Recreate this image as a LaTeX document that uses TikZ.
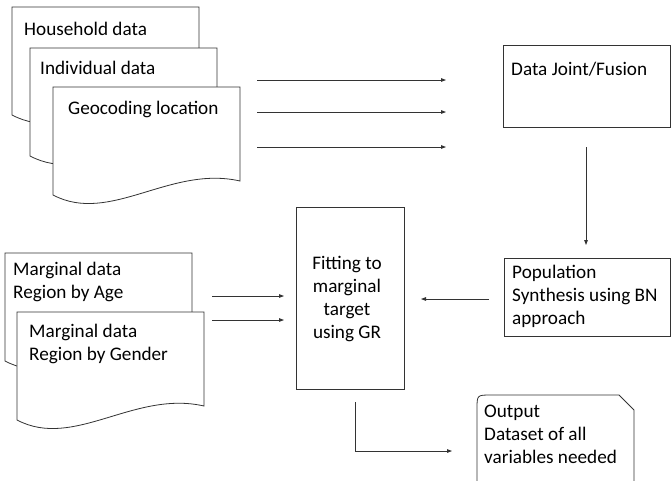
\documentclass[tikz,border=0pt]{standalone}
\usepackage{fontspec}
\setmainfont{Carlito}
\usetikzlibrary{arrows.meta}
\tikzset{
  ln/.style={draw=black!80,line width=0.8pt},
  arr/.style={ln,-{Triangle[length=5pt,width=3.6pt]}},
  txt/.style={inner sep=0pt,anchor=base west,font=\fontsize{19.2}{23}\selectfont,text=black},
  docshape/.pic={\path[ln,fill=white] (0,0) -- (187,0) -- (187,94) .. controls (117,78) and (57,138) .. (0,108) -- cycle;}
}
\begin{document}
\begin{tikzpicture}[x=1pt,y=-1pt]
\useasboundingbox (0,0) rectangle (671,480);
\clip (0,0) rectangle (671,480);
% document stacks
\pic at (12,7) {docshape};
\pic at (30,48) {docshape};
\pic at (53,87) {docshape};
\node[txt] (hh) at (24,35) {Household data};
\node[txt] (ind) at (40,74) {Individual data};
\node[txt] (geo) at (68,114) {Geocoding location};
\pic at (5,253) {docshape};
\pic at (17,312) {docshape};
\node[txt] (mage) at (13,275) {\begin{tabular}[t]{@{}l@{}}Marginal data\\Region by Age\end{tabular}};
\node[txt] (mgen) at (29,337) {\begin{tabular}[t]{@{}l@{}}Marginal data\\Region by Gender\end{tabular}};
% boxes
\draw[ln] (503,45) rectangle (670,127);
\node[txt] (fus) at (511,75) {Data Joint/Fusion};
\draw[ln] (296,207) rectangle (404,389);
\node[txt,anchor=base] (fit) at (347,269) {\begin{tabular}[t]{@{}c@{}}Fitting to\\marginal\\target\\using GR\end{tabular}};
\draw[ln] (504,258) rectangle (670,336);
\node[txt] (pop) at (512,278) {\begin{tabular}[t]{@{}l@{}}Population\\Synthesis using BN\\approach\end{tabular}};
\draw[ln] (477,490) -- (477,409) .. controls (477,395) .. (491,395) -- (619,395) -- (634,410) -- (634,490);
\node[txt] (out) at (484,417) {\begin{tabular}[t]{@{}l@{}}Output\\Dataset of all\\variables needed\end{tabular}};
% arrow end points
\coordinate (a1s) at (257,80);  \coordinate (a1e) at (446,80);
\coordinate (a2s) at (257,112); \coordinate (a2e) at (446,112);
\coordinate (a3s) at (257,147); \coordinate (a3e) at (446,147);
\coordinate (ds) at (586,147);  \coordinate (de) at (586,245);
\coordinate (ps) at (489,299);  \coordinate (pe) at (421,299);
\coordinate (m1s) at (212,296); \coordinate (m1e) at (284,296);
\coordinate (m2s) at (212,320); \coordinate (m2e) at (284,320);
\coordinate (es) at (355,402);  \coordinate (ee) at (452,451);
\draw[arr] (a1s) -- (a1e);
\draw[arr] (a2s) -- (a2e);
\draw[arr] (a3s) -- (a3e);
\draw[arr] (ds) -- (de);
\draw[arr] (ps) -- (pe);
\draw[arr] (m1s) -- (m1e);
\draw[arr] (m2s) -- (m2e);
\draw[arr] (es) |- (ee);
\end{tikzpicture}
\end{document}
